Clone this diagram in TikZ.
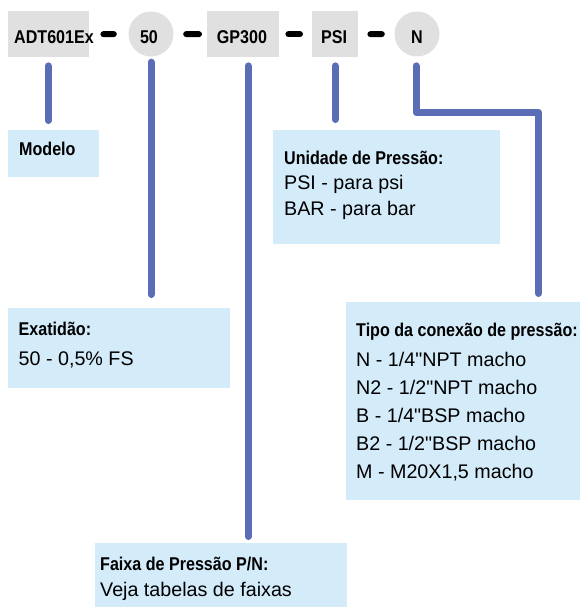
\documentclass[tikz,border=0pt]{standalone}
\usepackage{fontspec}
\setmainfont{Liberation Sans}[Ligatures=TeXOff]
\newfontfamily\cb[FakeStretch=0.87]{Liberation Sans Bold}
\definecolor{boxgray}{HTML}{E0E0E0}
\definecolor{boxblue}{HTML}{D4EBF9}
\definecolor{linkblue}{HTML}{5B6DB5}
\tikzset{
  graybox/.style={fill=boxgray, draw=none, inner sep=0pt, anchor=north west},
  graycirc/.style={circle, fill=boxgray, draw=none, inner sep=0pt, minimum size=45pt},
  bluebox/.style={fill=boxblue, draw=none, inner sep=0pt, anchor=north west},
  toptext/.style={font=\cb\fontsize{18.5}{22}\selectfont, inner sep=0pt},
  titletext/.style={font=\cb\fontsize{18.5}{22}\selectfont, inner sep=0pt, anchor=base west},
  bodytext/.style={font=\fontsize{19.7}{22}\selectfont, inner sep=0pt, anchor=base west},
  dashline/.style={draw=black, line width=6pt, line cap=round},
  conn/.style={draw=linkblue, line width=7pt, line cap=round, line join=round},
}
\begin{document}
\begin{tikzpicture}[x=1pt,y=-1pt]
\useasboundingbox (0,0) rectangle (580,607);
% top row
\node[graybox, minimum width=81pt, minimum height=46pt] (adt) at (8,11) {};
\node[toptext] (adtt) at (54,37.5) {ADT601Ex};
\node[graycirc] (c50) at (151,34) {};
\node[toptext] (c50t) at (149,37.5) {50};
\node[graybox, minimum width=72pt, minimum height=46pt] (gp) at (207,11) {};
\node[toptext] (gpt) at (242,37.5) {GP300};
\node[graybox, minimum width=46pt, minimum height=46pt] (psi) at (312,11) {};
\node[toptext] (psit) at (334,37.5) {PSI};
\node[graycirc] (cn) at (417,34) {};
\node[toptext] (cnt) at (417,37.5) {N};
% dashes
\draw[dashline, shorten <=14pt, shorten >=14.5pt] (adt.east) -- (c50.west);
\draw[dashline, shorten <=12.5pt, shorten >=8pt] (c50.east) -- (gp.west);
\draw[dashline, shorten <=9pt, shorten >=12pt] (gp.east) -- (psi.west);
\draw[dashline, shorten <=12pt, shorten >=12.5pt] (psi.east) -- (cn.west);
% boxes
\node[bluebox, minimum width=91pt, minimum height=47pt] (modelo) at (8,130) {};
\node[titletext] (modelot) at (19,155) {Modelo};
\node[bluebox, minimum width=227pt, minimum height=114pt] (unid) at (273,130) {};
\node[titletext] (unidt) at (284,164) {Unidade de Pressão:};
\node[bodytext] (unid1) at (284,189) {PSI - para psi};
\node[bodytext] (unid2) at (284,215) {BAR - para bar};
\node[bluebox, minimum width=222pt, minimum height=80pt] (exat) at (8,308) {};
\node[titletext] (exatt) at (18.5,335.7) {Exatidão:};
\node[bodytext] (exat1) at (18.5,365) {50 - 0,5\% FS};
\node[bluebox, minimum width=234pt, minimum height=198pt] (tipo) at (346,302) {};
\node[titletext] (tipot) at (356,336.7) {Tipo da conexão de pressão:};
\node[bodytext] (tipo1) at (356,366) {N - 1/4"NPT macho};
\node[bodytext] (tipo2) at (356,394.2) {N2 - 1/2"NPT macho};
\node[bodytext] (tipo3) at (356,422.3) {B - 1/4"BSP macho};
\node[bodytext] (tipo4) at (356,450.4) {B2 - 1/2"BSP macho};
\node[bodytext] (tipo5) at (356,478.5) {M - M20X1,5 macho};
\node[bluebox, minimum width=252pt, minimum height=64pt] (faixa) at (95,543) {};
\node[titletext] (faixat) at (100,570) {Faixa de Pressão P/N:};
\node[bodytext] (faixa1) at (100,596.5) {Veja tabelas de faixas};
% connectors
\draw[conn, shorten <=8.5pt, shorten >=9.5pt] ([xshift=-0.5pt]adt.south) -- ([xshift=-0.5pt]adt.south |- modelo.north);
\draw[conn, shorten <=5.5pt, shorten >=13.5pt] (c50.south) -- (c50.south |- exat.north);
\draw[conn, shorten <=8.5pt, shorten >=6.5pt] ([xshift=5pt]gp.south) -- ([xshift=5pt]gp.south |- faixa.north);
\draw[conn, shorten <=8.5pt, shorten >=10.5pt] (psi.south) -- (psi.south |- unid.north);
\coordinate (cnk1) at (416,112.5);
\coordinate (cnk2) at (538.5,112.5);
\draw[conn, shorten >=8.5pt] ([xshift=-1pt,yshift=-8.5pt]cn.south |- adt.south) -- (cnk1) -- (cnk2) -- (cnk2 |- tipo.north);
\end{tikzpicture}
\end{document}
